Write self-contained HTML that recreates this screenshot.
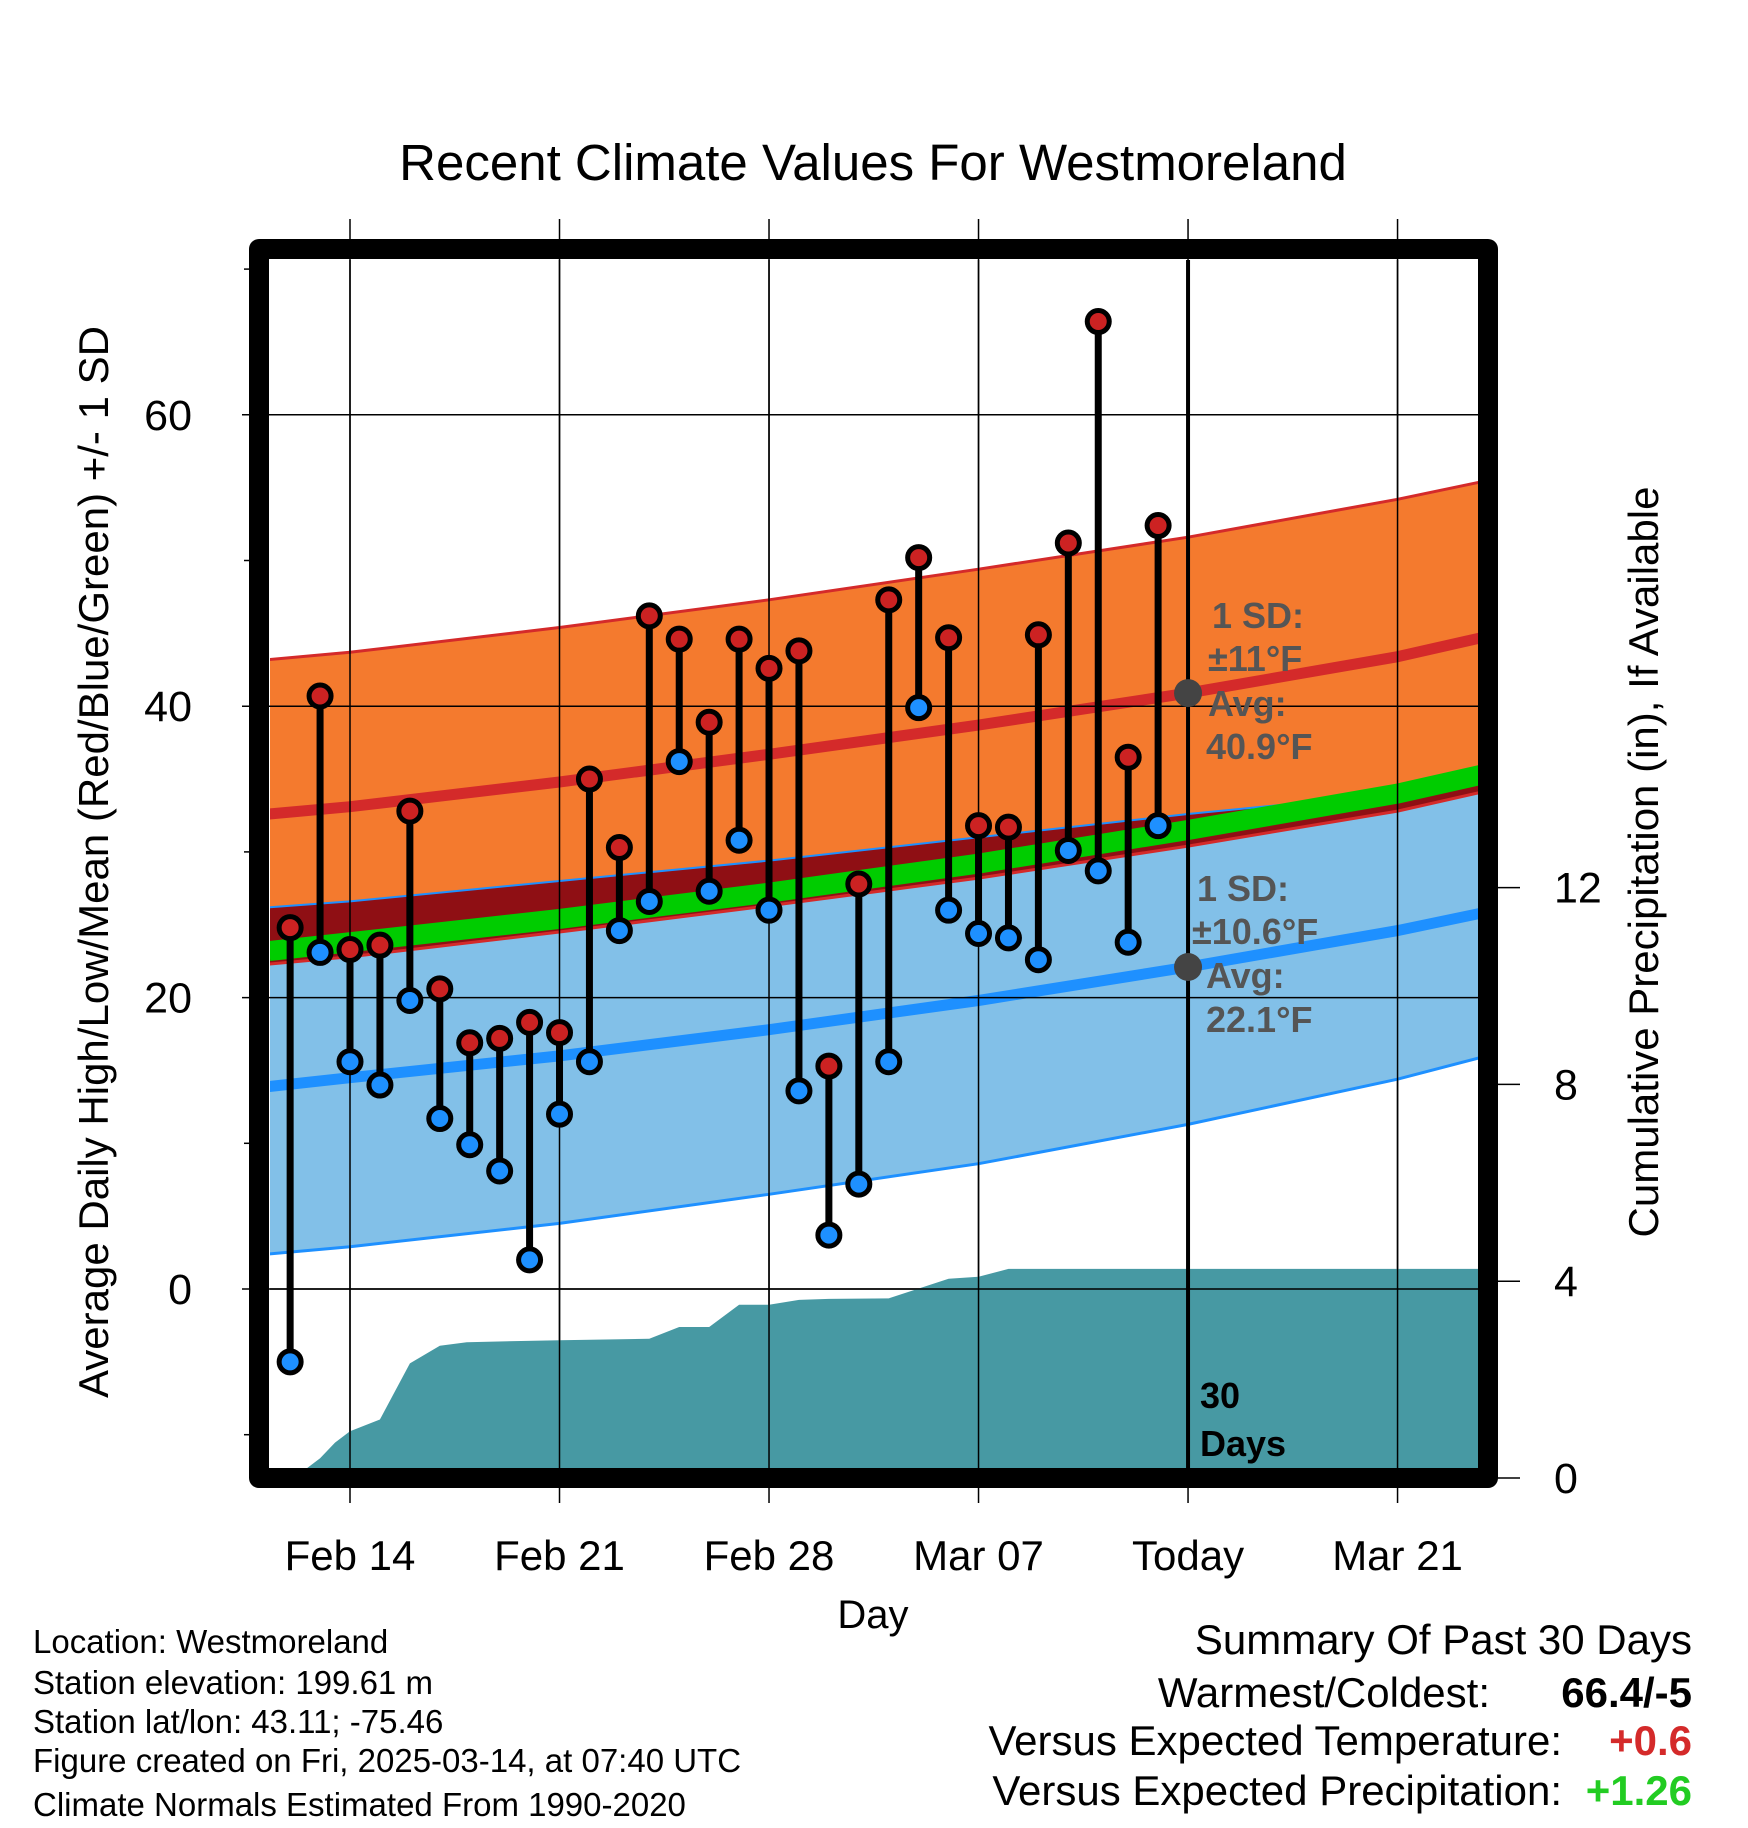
<!DOCTYPE html>
<html><head><meta charset="utf-8"><style>
html,body{margin:0;padding:0;background:#fff}
svg{display:block}
text{font-family:"Liberation Sans",Arial,sans-serif}
</style></head><body>
<svg id="chart" width="1748" height="1828" viewBox="0 0 1748 1828" xmlns="http://www.w3.org/2000/svg">
<defs><clipPath id="plotclip"><rect x="270" y="260" width="1208" height="1208"/></clipPath></defs>
<g id="grid"></g>
<g id="plot" clip-path="url(#plotclip)"></g>
<g id="over"></g>
<text x="873" y="180" font-size="51" text-anchor="middle">Recent Climate Values For Westmoreland</text>
<text x="873" y="1628" font-size="40" text-anchor="middle">Day</text>
<text transform="translate(108,862) rotate(-90)" font-size="42" text-anchor="middle">Average Daily High/Low/Mean (Red/Blue/Green) +/- 1 SD</text>
<text transform="translate(1658,862) rotate(-90)" font-size="42" text-anchor="middle">Cumulative Precipitation (in), If Available</text>
<g font-size="33">
<text x="33" y="1653">Location: Westmoreland</text>
<text x="33" y="1694">Station elevation: 199.61 m</text>
<text x="33" y="1733">Station lat/lon: 43.11; -75.46</text>
<text x="33" y="1772">Figure created on Fri, 2025-03-14, at 07:40 UTC</text>
<text x="33" y="1816">Climate Normals Estimated From 1990-2020</text>
</g>
<g font-size="42">
<text x="1692" y="1654" text-anchor="end">Summary Of Past 30 Days</text>
<text x="1490" y="1707" text-anchor="end">Warmest/Coldest:</text>
<text x="1692" y="1707" text-anchor="end" font-weight="bold">66.4/-5</text>
<text x="1562" y="1755" text-anchor="end">Versus Expected Temperature:</text>
<text x="1692" y="1755" text-anchor="end" font-weight="bold" fill="#d42a2a">+0.6</text>
<text x="1562" y="1805" text-anchor="end">Versus Expected Precipitation:</text>
<text x="1692" y="1805" text-anchor="end" font-weight="bold" fill="#22cc22">+1.26</text>
</g>
</svg>
<script>
const normDays=[-2.7,0,7,14,21,28,35,37.8];
const highMean=[32.6,33.1,34.8,36.7,38.7,40.9,43.4,44.7];
const highUpper=[43.2,43.7,45.4,47.3,49.4,51.6,54.2,55.4];
const highLower=[22.3,22.8,24.5,26.3,28.2,30.4,32.8,34.1];
const lowMean=[13.9,14.5,16.0,17.8,19.8,22.1,24.6,25.8];
const lowUpper=[26.2,26.6,28.0,29.4,31.0,32.6,34.0,34.7];
const lowLower=[2.4,2.9,4.5,6.5,8.6,11.3,14.4,15.9];
const avgMean=[23.2,23.8,25.4,27.2,29.2,31.5,34.0,35.3];
const obsDays=[-2,-1,0,1,2,3,4,5,6,7,8,9,10,11,12,13,14,15,16,17,18,19,20,21,22,23,24,25,26,27];
const highs=[24.8,40.7,23.3,23.6,32.8,20.6,16.9,17.2,18.3,17.6,35.0,30.3,46.2,44.6,38.9,44.6,42.6,43.8,15.3,27.8,47.3,50.2,44.7,31.8,31.7,44.9,51.2,66.4,36.5,52.4];
const lows=[-5,23.1,15.6,14.0,19.8,11.7,9.9,8.1,2.0,12.0,15.6,24.6,26.6,36.2,27.3,30.8,26.0,13.6,3.7,7.2,15.6,39.9,26.0,24.4,24.1,22.6,30.1,28.7,23.8,31.8];
const precipDays=[-2.7,-1.5,-1.0,-0.5,0,1,2,3,3.9,7,10,11,12,13,14,15,16,18,20,21,22,37.8];
const precipVals=[0,0.17,0.4,0.72,0.95,1.19,2.33,2.69,2.76,2.80,2.83,3.07,3.07,3.52,3.52,3.62,3.64,3.65,4.05,4.09,4.25,4.25];
const xTickDays=[0,7,14,21,28,35];
const xTickLabels=["Feb 14","Feb 21","Feb 28","Mar 07","Today","Mar 21"];
const yTicks=[0,20,40,60];
const yMinor=[-10,10,30,50,70];
const pTicks=[0,4,8,12];
const todayDay=28, todayHighAvg=40.9, todayLowAvg=22.1;

const NS="http://www.w3.org/2000/svg";
const X=d=>350+d*29.93;
const Y=t=>1289-t*14.57;
const P=p=>1478-p*49.2;
function mk(parent,tag,attrs){const e=document.createElementNS(NS,tag);for(const k in attrs)e.setAttribute(k,attrs[k]);parent.appendChild(e);return e;}
const grid=document.getElementById('grid'),plot=document.getElementById('plot'),over=document.getElementById('over');
function pts(days,vals){return days.map((d,i)=>X(d).toFixed(1)+","+Y(vals[i]).toFixed(1));}
function band(lo,hi){return pts(normDays,hi).concat(pts(normDays,lo).reverse()).join(" ");}

let e=mk(plot,'polygon',{points:band(highLower,highUpper),fill:'#f47a2e'});

e=mk(plot,'polygon',{points:band(lowLower,lowUpper),fill:'#82c0e8'});

const ovLo=normDays.map((d,i)=>highLower[i]),ovHi=normDays.map((d,i)=>Math.max(lowUpper[i],highLower[i]));
e=mk(plot,'polygon',{points:band(ovLo,ovHi),fill:'#8f0f14'});

e=mk(plot,'polyline',{points:pts(normDays,highUpper).join(" "),fill:'none',stroke:'#d42a2a','stroke-width':3});

e=mk(plot,'polyline',{points:pts(normDays,highLower).join(" "),fill:'none',stroke:'#d42a2a','stroke-width':3});

e=mk(plot,'polyline',{points:pts(normDays,lowLower).join(" "),fill:'none',stroke:'#1e90ff','stroke-width':3});

e=mk(plot,'polyline',{points:pts(normDays,lowUpper).join(" "),fill:'none',stroke:'#1e90ff','stroke-width':2});

e=mk(plot,'polyline',{points:pts(normDays,avgMean).join(" "),fill:'none',stroke:'#00cc00','stroke-width':20});

e=mk(plot,'polyline',{points:pts(normDays,highMean).join(" "),fill:'none',stroke:'#d42a2a','stroke-width':11});

e=mk(plot,'polyline',{points:pts(normDays,lowMean).join(" "),fill:'none',stroke:'#1e90ff','stroke-width':11});


const pp=precipDays.map((d,i)=>X(d).toFixed(1)+","+P(precipVals[i]).toFixed(1));
pp.push(X(precipDays[precipDays.length-1]).toFixed(1)+","+P(0));
pp.push(X(precipDays[0]).toFixed(1)+","+P(0));
e=mk(plot,'polygon',{points:pp.join(" "),fill:'#4799a3'});


xTickDays.forEach((d,i)=>{
  let l=mk(grid,'line',{x1:X(d),x2:X(d),y1:219,y2:1503,stroke:'#000','stroke-width':1.5});
  
  let t=mk(over,'text',{x:X(d),y:1570,'font-size':42,'text-anchor':'middle'});t.textContent=xTickLabels[i];
  
});
yTicks.forEach(v=>{
  let l=mk(grid,'line',{x1:242,x2:1488,y1:Y(v),y2:Y(v),stroke:'#000','stroke-width':1.5});
  
  let t=mk(over,'text',{x:192,y:Y(v)+15,'font-size':43,'text-anchor':'end'});t.textContent=v;
  
});
yMinor.forEach(v=>{
  let l=mk(grid,'line',{x1:244,x2:260,y1:Y(v),y2:Y(v),stroke:'#000','stroke-width':1.5});
  
});
pTicks.forEach(v=>{
  let l=mk(grid,'line',{x1:1488,x2:1520,y1:P(v),y2:P(v),stroke:'#000','stroke-width':1.5});
  
  let t=mk(over,'text',{x:1554,y:P(v)+15,'font-size':43,'text-anchor':'start'});t.textContent=v;
  
});
xTickDays.forEach(d=>{mk(plot,'line',{x1:X(d),x2:X(d),y1:260,y2:1468,stroke:'#000','stroke-width':1.5});});
yTicks.forEach(v=>{mk(plot,'line',{x1:270,x2:1478,y1:Y(v),y2:Y(v),stroke:'#000','stroke-width':1.5});});

e=mk(plot,'line',{x1:X(todayDay),x2:X(todayDay),y1:260,y2:1468,stroke:'#000','stroke-width':4});


obsDays.forEach((d,i)=>{
  let s=mk(plot,'line',{x1:X(d),x2:X(d),y1:Y(highs[i]),y2:Y(lows[i]),stroke:'#000','stroke-width':7});
  
});
obsDays.forEach((d,i)=>{
  let c=mk(plot,'circle',{cx:X(d),cy:Y(highs[i]),r:11,fill:'#cc2222',stroke:'#000','stroke-width':5});
  
  c=mk(plot,'circle',{cx:X(d),cy:Y(lows[i]),r:11,fill:'#1e90ff',stroke:'#000','stroke-width':5});
  
});
[todayHighAvg,todayLowAvg].forEach(v=>{
  let c=mk(plot,'circle',{cx:X(todayDay),cy:Y(v),r:14,fill:'#444'});
  
});
function ann(x,y,txt,color){let t=mk(plot,'text',{x:x,y:y,'font-size':36,'font-weight':'bold',fill:color});t.textContent=txt;
  }
ann(1212,628,"1 SD:","#555");ann(1208,671,"±11°F","#555");ann(1208,716,"Avg:","#555");ann(1206,759,todayHighAvg+"°F","#555");
ann(1197,901,"1 SD:","#555");ann(1192,944,"±10.6°F","#555");ann(1206,988,"Avg:","#555");ann(1206,1032,todayLowAvg+"°F","#555");
ann(1200,1408,"30","#000");ann(1200,1456,"Days","#000");

e=mk(over,'rect',{x:259,y:249,width:1229,height:1229,fill:'none',stroke:'#000','stroke-width':20,'stroke-linejoin':'round'});

</script>
</body></html>
